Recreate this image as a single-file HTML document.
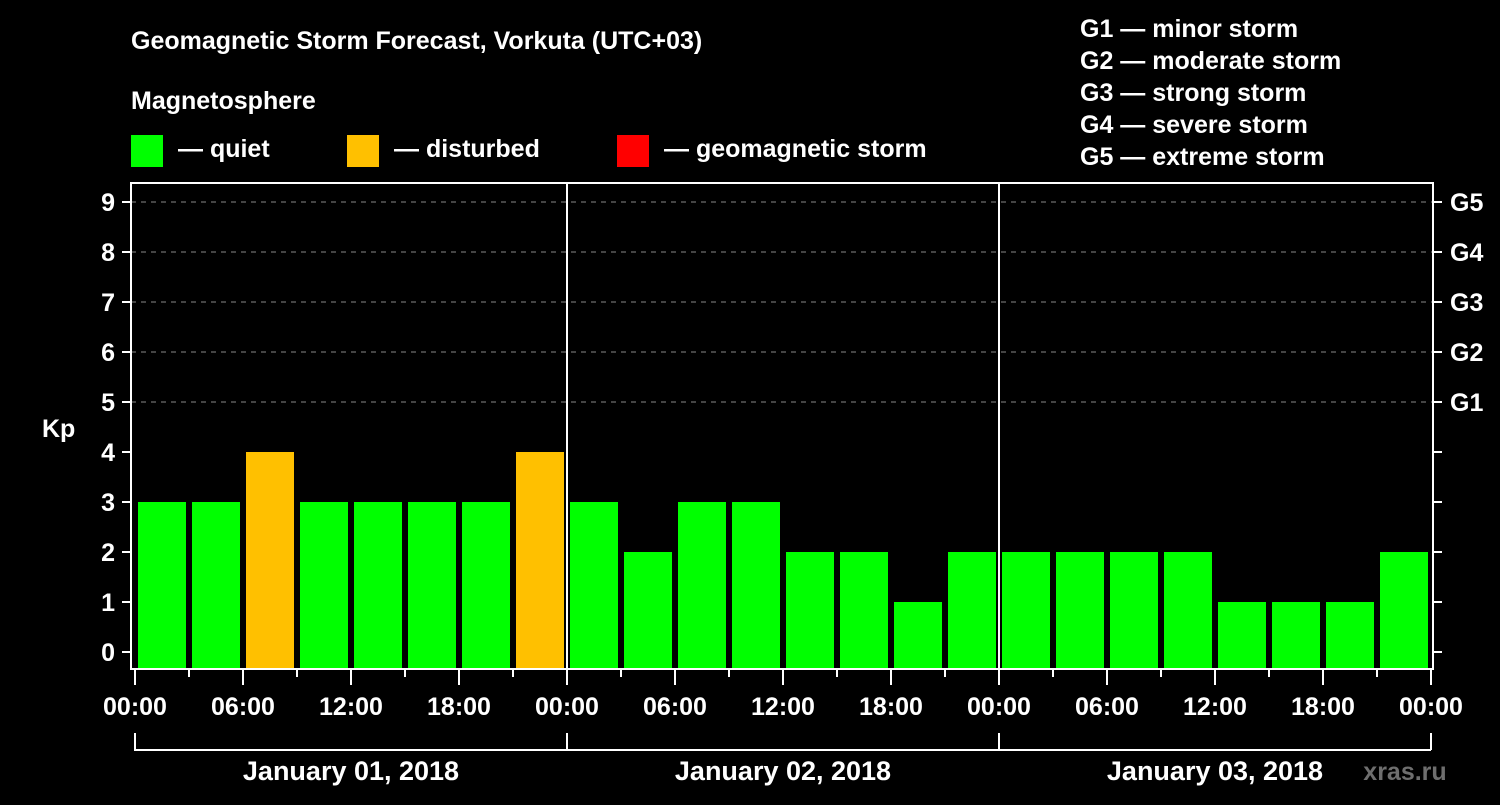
<!DOCTYPE html>
<html><head><meta charset="utf-8"><style>
body{margin:0;background:#000;width:1500px;height:800px;overflow:hidden}
svg text{font-family:"Liberation Sans",sans-serif;font-weight:bold;fill:#fff}
</style></head><body>
<svg id="c" width="1500" height="800" xmlns="http://www.w3.org/2000/svg">
<text x="131" y="49" font-size="25">Geomagnetic Storm Forecast, Vorkuta (UTC+03)</text>
<text x="131" y="109" font-size="25">Magnetosphere</text>
<g>
<rect x="131" y="135" width="32" height="32" fill="#00ff00"/>
<text x="178" y="157" font-size="25">— quiet</text>
<rect x="347" y="135" width="32" height="32" fill="#ffc000"/>
<text x="394" y="157" font-size="25">— disturbed</text>
<rect x="617" y="135" width="32" height="32" fill="#ff0000"/>
<text x="664" y="157" font-size="25">— geomagnetic storm</text>
</g>
<g font-size="25">
<text x="1080" y="37">G1 — minor storm</text>
<text x="1080" y="69">G2 — moderate storm</text>
<text x="1080" y="101">G3 — strong storm</text>
<text x="1080" y="133">G4 — severe storm</text>
<text x="1080" y="165">G5 — extreme storm</text>
</g>
<text x="42" y="437" font-size="25">Kp</text>
<text x="1405" y="780" font-size="25" fill="#777" style="fill:#6e6e6e" text-anchor="middle">xras.ru</text>
<g id="plot"></g>
</svg>
<script>
const values=[3,3,4,3,3,3,3,4, 3,2,3,3,2,2,1,2, 2,2,2,2,1,1,1,2];
const status=["q","q","d","q","q","q","q","d", "q","q","q","q","q","q","q","q", "q","q","q","q","q","q","q","q"];
const dayLabels=["January 01, 2018","January 02, 2018","January 03, 2018"];
const timeLabels=["00:00","06:00","12:00","18:00"];
const yTicks=[0,1,2,3,4,5,6,7,8,9];
const gLabels=["G1","G2","G3","G4","G5"];
const gLevels=[5,6,7,8,9];
const NS="http://www.w3.org/2000/svg";
const g=document.getElementById('plot');
const X0=135,SLOT=54,Y0=652,UNIT=50,TOP=183,BOT=669,L=131,R=1433;
const xs=i=>X0+i*SLOT, ys=v=>Y0-v*UNIT;
function mk(t,a,txt){const e=document.createElementNS(NS,t);for(const k in a)e.setAttribute(k,a[k]);if(txt!=null)e.textContent=txt;g.appendChild(e);return e;}
// grid
gLevels.forEach(v=>{const e=mk('line',{x1:L,x2:R,y1:ys(v),y2:ys(v),stroke:'#888','stroke-dasharray':'5,5','stroke-width':1});

});
// bars
values.forEach((v,i)=>{const e=mk('rect',{x:xs(i)+3,y:ys(v),width:48,height:BOT-ys(v),fill:status[i]==='d'?'#ffc000':status[i]==='s'?'#ff0000':'#00ff00'});

});
// frame
const fr=mk('rect',{x:L,y:TOP,width:R-L,height:BOT-TOP,fill:'none',stroke:'#fff','stroke-width':2});


for(let d=1;d<3;d++){const e=mk('line',{x1:xs(d*8),x2:xs(d*8),y1:TOP,y2:BOT,stroke:'#fff','stroke-width':2});

}
// y ticks
yTicks.forEach(v=>{mk('line',{x1:122,x2:L,y1:ys(v),y2:ys(v),stroke:'#fff','stroke-width':2});
mk('line',{x1:R,x2:1442,y1:ys(v),y2:ys(v),stroke:'#fff','stroke-width':2});
const t=mk('text',{x:115,y:ys(v)+9,'font-size':25,'text-anchor':'end'},String(v));

});
gLabels.forEach((s,i)=>{const t=mk('text',{x:1450,y:ys(gLevels[i])+9,'font-size':25},s);

});
// x ticks
for(let i=0;i<=24;i++){const major=i%2===0;mk('line',{x1:xs(i),x2:xs(i),y1:BOT,y2:major?685:677,stroke:'#fff','stroke-width':2});}
for(let i=0;i<=12;i++){const lab=i===12?timeLabels[0]:timeLabels[i%4];
const t=mk('text',{x:xs(i*2),y:715,'font-size':25,'text-anchor':'middle'},lab);

}
// day brackets
dayLabels.forEach((s,d)=>{const a=xs(d*8),b=xs(d*8+8);
mk('path',{d:`M${a},733V750H${b}`,stroke:'#fff','stroke-width':2,fill:'none'});
const t=mk('text',{x:(a+b)/2,y:780,'font-size':27,'text-anchor':'middle'},s);

});
mk('line',{x1:xs(24),x2:xs(24),y1:733,y2:750,stroke:'#fff','stroke-width':2});
</script>
</body></html>
